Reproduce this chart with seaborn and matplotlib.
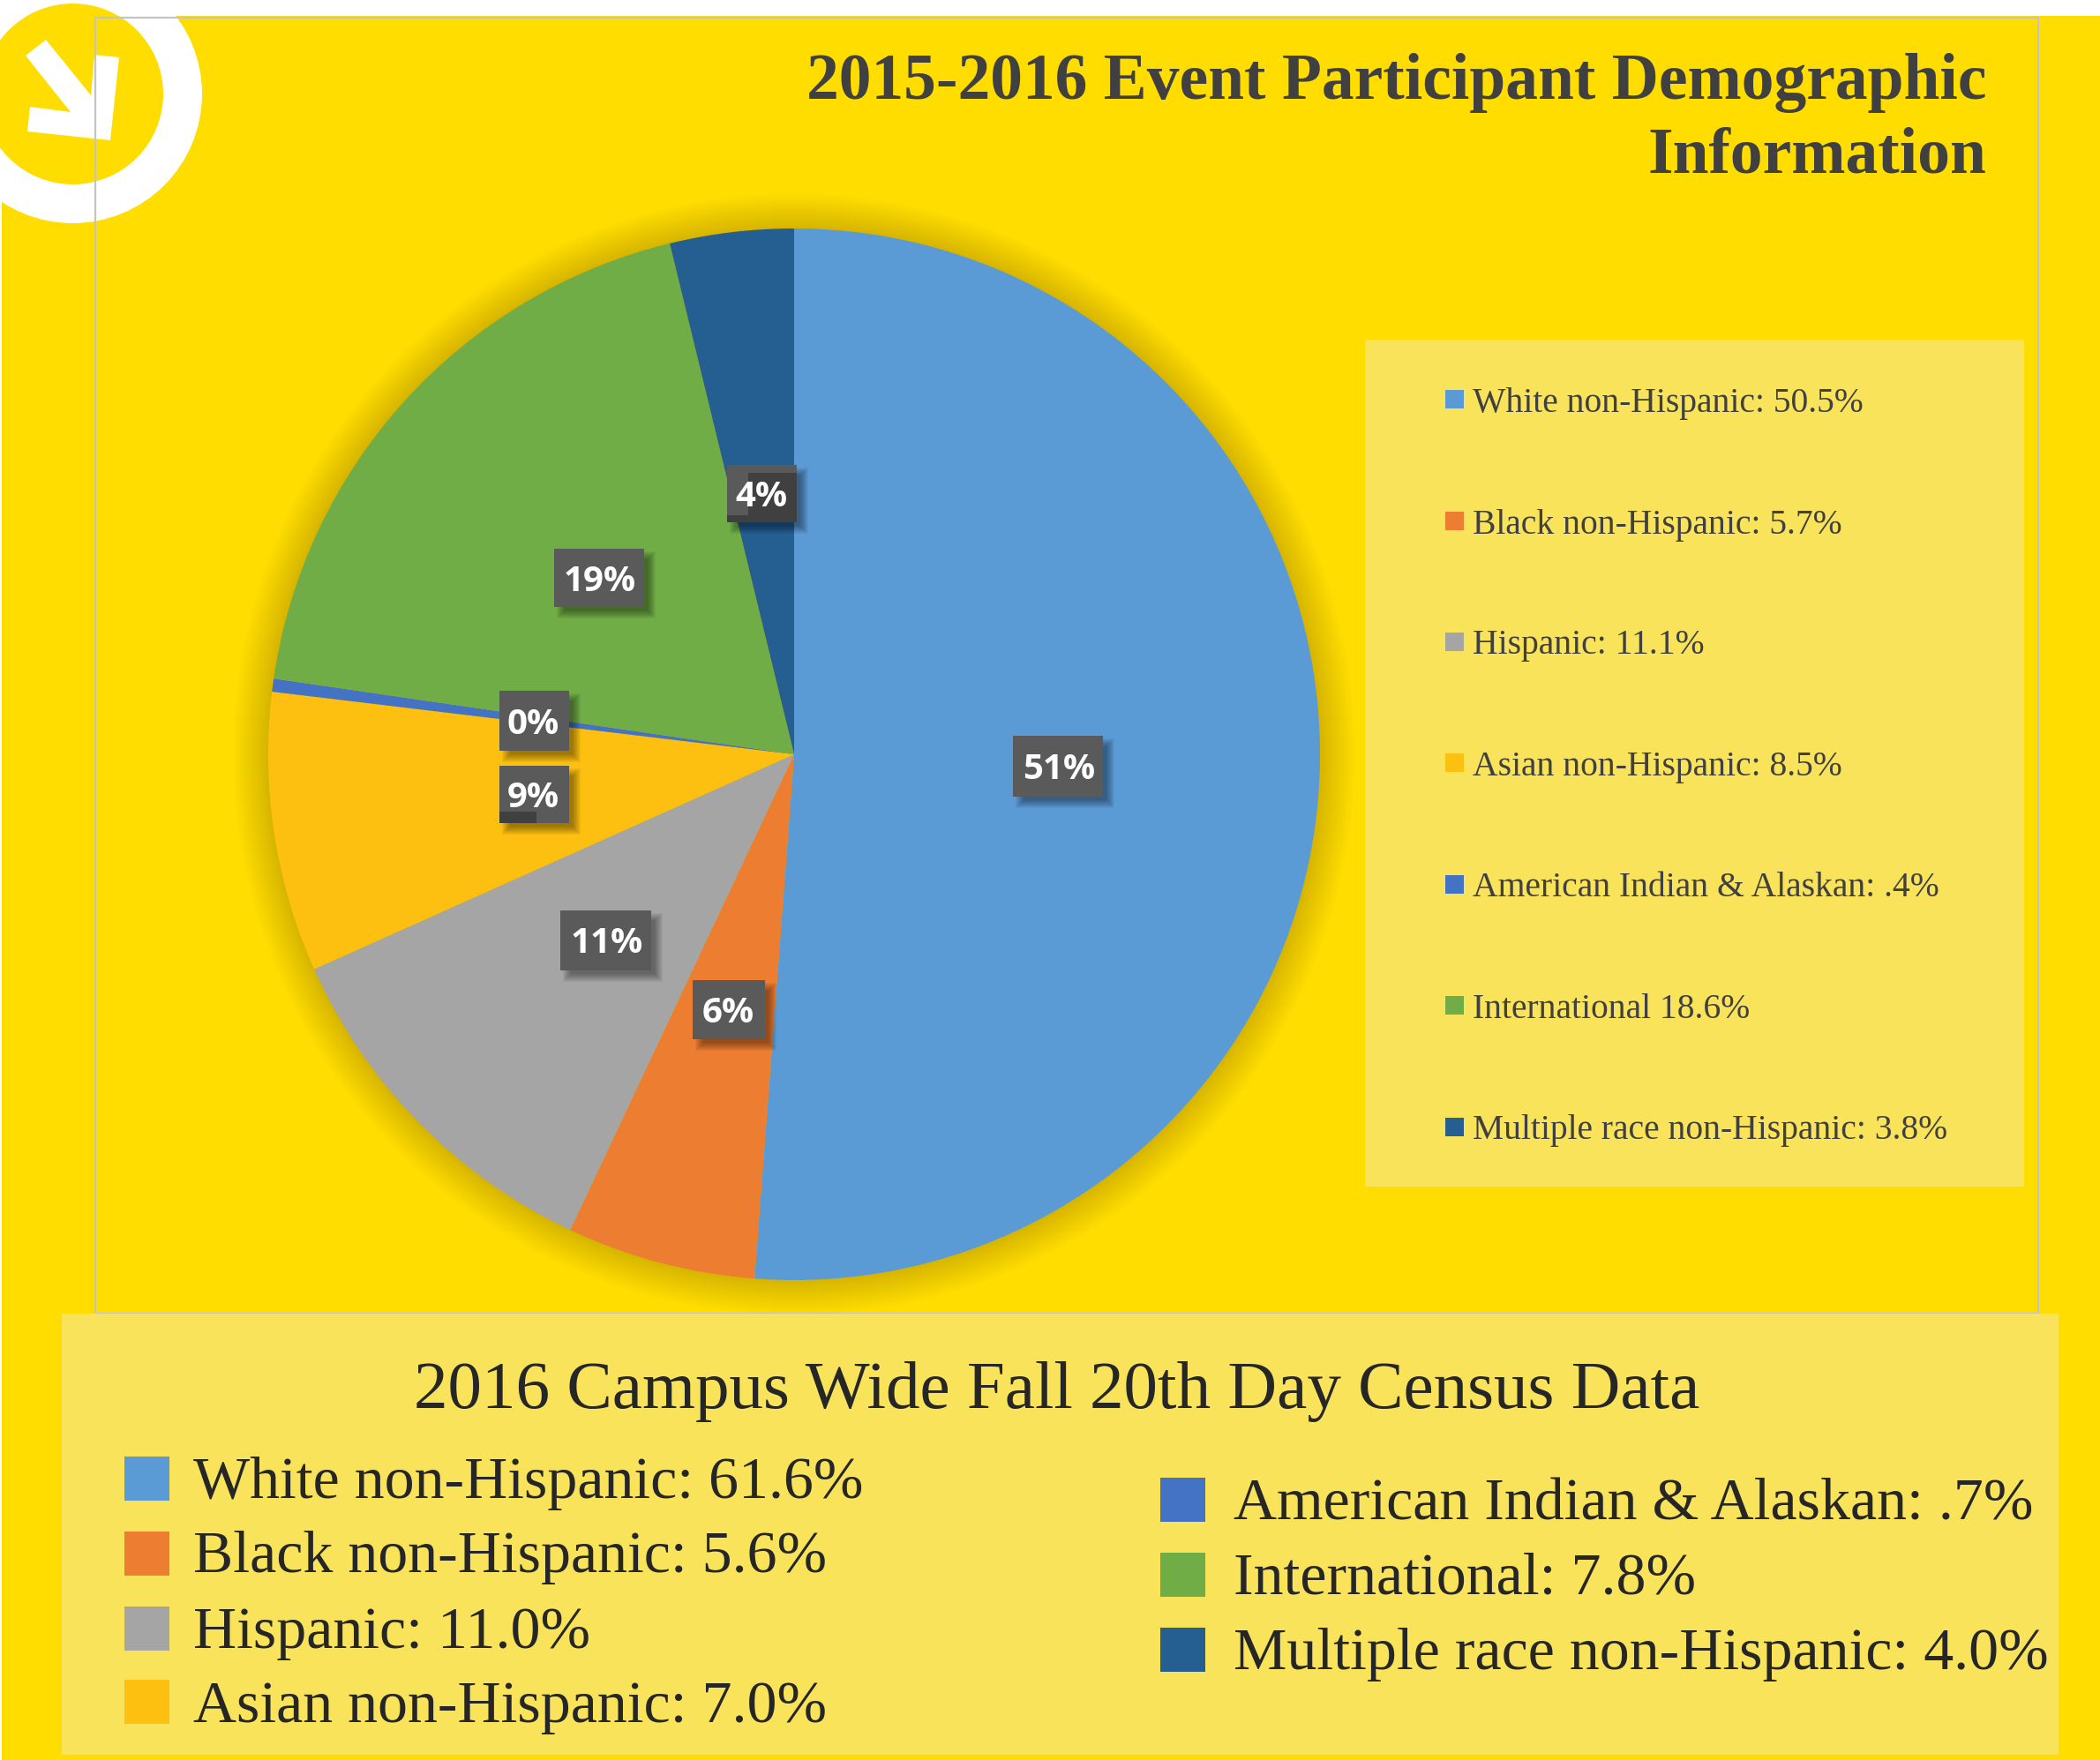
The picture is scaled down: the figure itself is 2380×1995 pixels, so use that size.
import matplotlib as mpl
mpl.use('Agg')
import matplotlib.pyplot as plt
from matplotlib.patches import Rectangle, Circle, Polygon
import seaborn as sns

# Data
groups = ['White non-Hispanic', 'Black non-Hispanic', 'Hispanic', 'Asian non-Hispanic',
          'American Indian & Alaskan', 'International', 'Multiple race non-Hispanic']
slice_values = [51.2, 5.8, 11.3, 8.6, 0.4, 18.9, 3.8]
slice_labels = ['51%', '6%', '11%', '9%', '0%', '19%', '4%']
event_values = ['50.5%', '5.7%', '11.1%', '8.5%', '.4%', '18.6%', '3.8%']
census_values = ['61.6%', '5.6%', '11.0%', '7.0%', '.7%', '7.8%', '4.0%']
colors = ['#5B9BD5', '#ED7D31', '#A5A5A5', '#FDC010', '#4472C4', '#70AD47', '#255E91']

# Layout, in pixels of the 2380x1995 picture
W, H = 2380, 1995
yellow = '#FFDD00'
pale = '#F9E35A'
ink = '#404040'
center = (900, 855)
radius = 596
label_boxes = [(1148, 834, 102, 69), (785, 1111, 82, 67), (635, 1032, 103, 68), (566, 868, 79, 65),
               (566, 783, 79, 68), (628, 622, 102, 66), (824, 527, 79, 65)]
event_rows = [457, 595, 732, 869, 1007, 1144, 1282]
census_rows = [1681, 1766, 1851, 1935, 1706, 1790, 1875]
census_cols = [141] * 4 + [1315] * 3
census_text = [219] * 4 + [1398] * 3
census_marks = [1676, 1761, 1846, 1929, 1700, 1785, 1870]

sns.set_theme(style='white')
plt.rcParams['font.family'] = ['Liberation Serif', 'DejaVu Sans']
palette = sns.color_palette(colors)

fig = plt.figure(figsize=(W / 100, H / 100), dpi=100, facecolor='white')
ax = fig.add_axes([0, 0, 1, 1])
ax.set_axis_off()

ax.add_patch(Rectangle((2, 18), W - 2, H - 18, fc=yellow, ec='none', zorder=0))

# Logo
ax.add_patch(Circle((82.5, 106.5), 146.5, fc='white', ec='none', zorder=1))
ax.add_patch(Circle((82.5, 106.5), 102.5, fc=yellow, ec='none', zorder=1.1))
ax.add_patch(Polygon([(52, 45), (103, 108), (107, 62), (135, 65), (125, 159), (31, 149),
                      (34, 121), (80, 127), (29, 63)], fc='white', ec='none', zorder=1.2))
ax.add_patch(Rectangle((108, 20), 2202, 1469, fc='none', ec='#C4C4C4', lw=1.6, zorder=1.5))

# Soft shadow round the pie
for i in range(40):
    ax.add_patch(Circle(center, radius + 40 - i, fc='black', ec='none', alpha=0.0042, zorder=1.6))

# y axis is inverted, so counterclock here runs clockwise on the picture
ax.pie(slice_values, colors=palette, startangle=-90, counterclock=True, center=center, radius=radius,
       wedgeprops={'zorder': 2, 'linewidth': 0})
ax.set_xlim(0, W)
ax.set_ylim(H, 0)
ax.set_aspect('auto')

# Percent labels
for (x, y, w, h), lab in zip(label_boxes, slice_labels):
    for i in range(10):
        ax.add_patch(Rectangle((x + 12 - i, y + 12 - i), w + 2 * i - 8, h + 2 * i - 8, fc='black', ec='none',
                               alpha=0.045, zorder=3))
    ax.add_patch(Rectangle((x, y), w, h, fc='#595A59', ec='none', zorder=3.1))
    if lab == '4%':
        ax.add_patch(Rectangle((x + 24, y + 9), w - 24, h - 9, fc='#404040', ec='none', zorder=3.2))
        ax.add_patch(Rectangle((x, y + h - 8), 24, 8, fc='#404040', ec='none', zorder=3.2))
    if lab == '9%':
        ax.add_patch(Rectangle((x, y + h - 13), 42, 13, fc='#404040', ec='none', zorder=3.2))
    shift = 1 if len(lab) == 3 else -1
    ax.text(x + w / 2 + shift, y + h / 2 + 4, lab, color='white', fontsize=29, fontweight='bold', family='Open Sans',
            ha='center', va='center', zorder=4)

# Title
ax.text(2251, 94, '2015-2016 Event Participant Demographic', color=ink, fontsize=52.9, fontweight='bold',
        ha='right', va='center', zorder=5)
ax.text(2251, 178, 'Information', color=ink, fontsize=52.9, fontweight='bold', ha='right', va='center', zorder=5)

# Event legend
ax.add_patch(Rectangle((1547, 385), 747, 960, fc=pale, ec='none', zorder=1.7))
for y, name, val, c in zip(event_rows, groups, event_values, palette):
    ax.add_patch(Rectangle((1638, y - 15), 21, 21, fc=c, ec='none', zorder=2))
    sep = ' ' if name == 'International' else ': '
    ax.text(1669, y, name + sep + val, color=ink, fontsize=28.5, ha='left', va='center', zorder=5)

# Census panel
ax.add_patch(Rectangle((70, 1489), 2263, 500, fc=pale, ec='none', zorder=1.7))
ax.text(1198, 1577, '2016 Campus Wide Fall 20th Day Census Data', color='#262626', fontsize=55.5,
        ha='center', va='center', zorder=5)
for y, ym, xm, xt, name, val, c in zip(census_rows, census_marks, census_cols, census_text, groups, census_values, palette):
    ax.add_patch(Rectangle((xm, ym - 25), 51, 50, fc=c, ec='none', zorder=2))
    ax.text(xt, y, name + ': ' + val, color='#262626', fontsize=48.9, ha='left', va='center', zorder=5)

fig.savefig('out.png', dpi=100)
